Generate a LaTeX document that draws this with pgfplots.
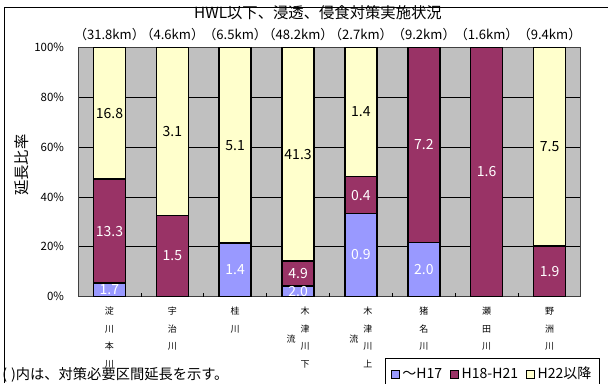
\documentclass[border=0pt]{standalone}
\usepackage{fontspec}
\setmainfont{Noto Sans CJK JP}
\usepackage{pgfplots}
\pgfplotsset{compat=1.18}
\usepackage{pgfplotstable}
\definecolor{cblue}{HTML}{9999FF}
\definecolor{cpurp}{HTML}{993366}
\definecolor{cyell}{HTML}{FFFFCC}
\definecolor{cgray}{HTML}{C0C0C0}

% percentage shares of each river (from km values)
\pgfplotstableread{
x p1 p2 p3
0 5.35 41.82 52.83
1 0 32.61 67.39
2 21.54 0 78.46
3 4.15 10.17 85.68
4 33.33 14.81 51.86
5 21.74 78.26 0
6 0 100 0
7 0 20.21 79.79
}\shares

\newcommand\vl[1]{\begin{tabular}[t]{@{}c@{}}#1\end{tabular}}

\begin{document}
\begin{tikzpicture}
\path[use as bounding box] (0,0) rectangle (456pt,287.25pt);
\draw[line width=0.9pt, black] (3.2pt,0pt) -- (3.2pt,281.6pt) -- (456pt,281.6pt);
\node[font=\fontsize{11.5pt}{13pt}\selectfont] at (238.5pt,278pt) {HWL以下、浸透、侵食対策実施状況};
\node[font=\fontsize{11.5pt}{13pt}\selectfont, rotate=90] at (16.5pt,163.5pt) {延長比率};
\node[font=\fontsize{10.7pt}{12pt}\selectfont, anchor=west, inner sep=0pt] at (1.5pt,6pt) {(\hspace{3pt})内は、対策必要区間延長を示す。};
\begin{axis}[
  at={(58.5pt,64.875pt)}, anchor=south west, scale only axis,
  width=377.25pt, height=186.75pt,
  ybar stacked, bar width=24pt,
  xmin=-0.5, xmax=7.5, ymin=0, ymax=100,
  axis background/.style={fill=cgray},
  axis line style={draw=black!75, line width=0.75pt},
  ytick={0,20,...,100},
  yticklabel={\pgfmathprintnumber{\tick}\%},
  /pgf/number format/assume math mode=true,
  yticklabel style={font=\fontsize{8.6pt}{10pt}\selectfont, xshift=-7pt},
  ymajorgrids, grid style={black, line width=0.6pt},
  major tick length=0pt,
  xtick pos=left,
  xtick={0,...,7},
  xticklabels={
    {\vl{淀\\川\\本\\川}},
    {\vl{宇\\治\\川}},
    {\vl{桂\\川}},
    {\raisebox{-21pt}{流}\hspace{3.75pt}\vl{木\\津\\川\\下}},
    {\raisebox{-21pt}{流}\hspace{3.75pt}\vl{木\\津\\川\\上}},
    {\vl{猪\\名\\川}},
    {\vl{瀬\\田\\川}},
    {\vl{野\\洲\\川}}},
  xticklabel style={font=\fontsize{6.75pt}{13.1pt}\selectfont, yshift=-1pt},
  extra x ticks={0.5,1.5,...,6.5},
  extra x tick labels={},
  extra x tick style={major tick length=3pt, tick align=inside, tick style={black, line width=0.5pt}},
  legend columns=3,
  legend style={at={(rel axis cs:0.610,-0.247)}, anchor=north west,
    draw=black, line width=0.75pt, fill=white,
    font=\fontsize{10.5pt}{12pt}\selectfont,
    inner xsep=4pt, inner ysep=4.5pt,
    /tikz/every even column/.append style={column sep=4pt},
    cells={anchor=west}},
  legend image code/.code={\draw[#1, line width=0.75pt] (0pt,-3pt) rectangle (6pt,3pt);},
]
\addplot[fill=cblue, draw=black, line width=1.2pt] table[x=x, y=p1] {\shares};
\addplot[fill=cpurp, draw=black, line width=1.2pt] table[x=x, y=p2] {\shares};
\addplot[fill=cyell, draw=black, line width=1.2pt] table[x=x, y=p3] {\shares};
\legend{～H17, H18-H21, H22以降}
\end{axis}
\begin{axis}[
  at={(58.5pt,64.875pt)}, anchor=south west, scale only axis,
  width=377.25pt, height=186.75pt,
  xmin=-0.5, xmax=7.5, ymin=0, ymax=100,
  hide axis, clip=false,
]
% km labels above bars
\addplot[only marks, mark=text, text mark={},
  nodes near coords, point meta=explicit symbolic,
  every node near coord/.append style={anchor=center, yshift=9.4pt, text=black,
    font=\fontsize{9.8pt}{11pt}\selectfont}]
  coordinates {(0,100)[（31.8km）] (1,100)[（4.6km）] (2,100)[（6.5km）] (3,100)[（48.2km）]
    (4,100)[（2.7km）] (5,100)[（9.2km）] (6,100)[（1.6km）] (7,100)[（9.4km）]};
% white values in blue and purple segments
\addplot[only marks, mark=text, text mark={},
  nodes near coords, point meta=explicit symbolic,
  every node near coord/.append style={anchor=center, text=white,
    font=\fontsize{10.5pt}{12pt}\selectfont}]
  coordinates {(0,2.67)[1.7] (0,26.26)[13.3] (1,16.30)[1.5] (2,10.77)[1.4]
    (3,2.07)[2.0] (3,9.23)[4.9] (4,16.67)[0.9] (4,40.74)[0.4]
    (5,10.87)[2.0] (5,60.87)[7.2] (6,50)[1.6] (7,10.11)[1.9]};
% black values in yellow segments
\addplot[only marks, mark=text, text mark={},
  nodes near coords, point meta=explicit symbolic,
  every node near coord/.append style={anchor=center, text=black,
    font=\fontsize{10.5pt}{12pt}\selectfont}]
  coordinates {(0,73.58)[16.8] (1,66.30)[3.1] (2,60.77)[5.1] (3,57.16)[41.3]
    (4,74.07)[1.4] (7,60.11)[7.5]};
\end{axis}
\end{tikzpicture}
\end{document}
